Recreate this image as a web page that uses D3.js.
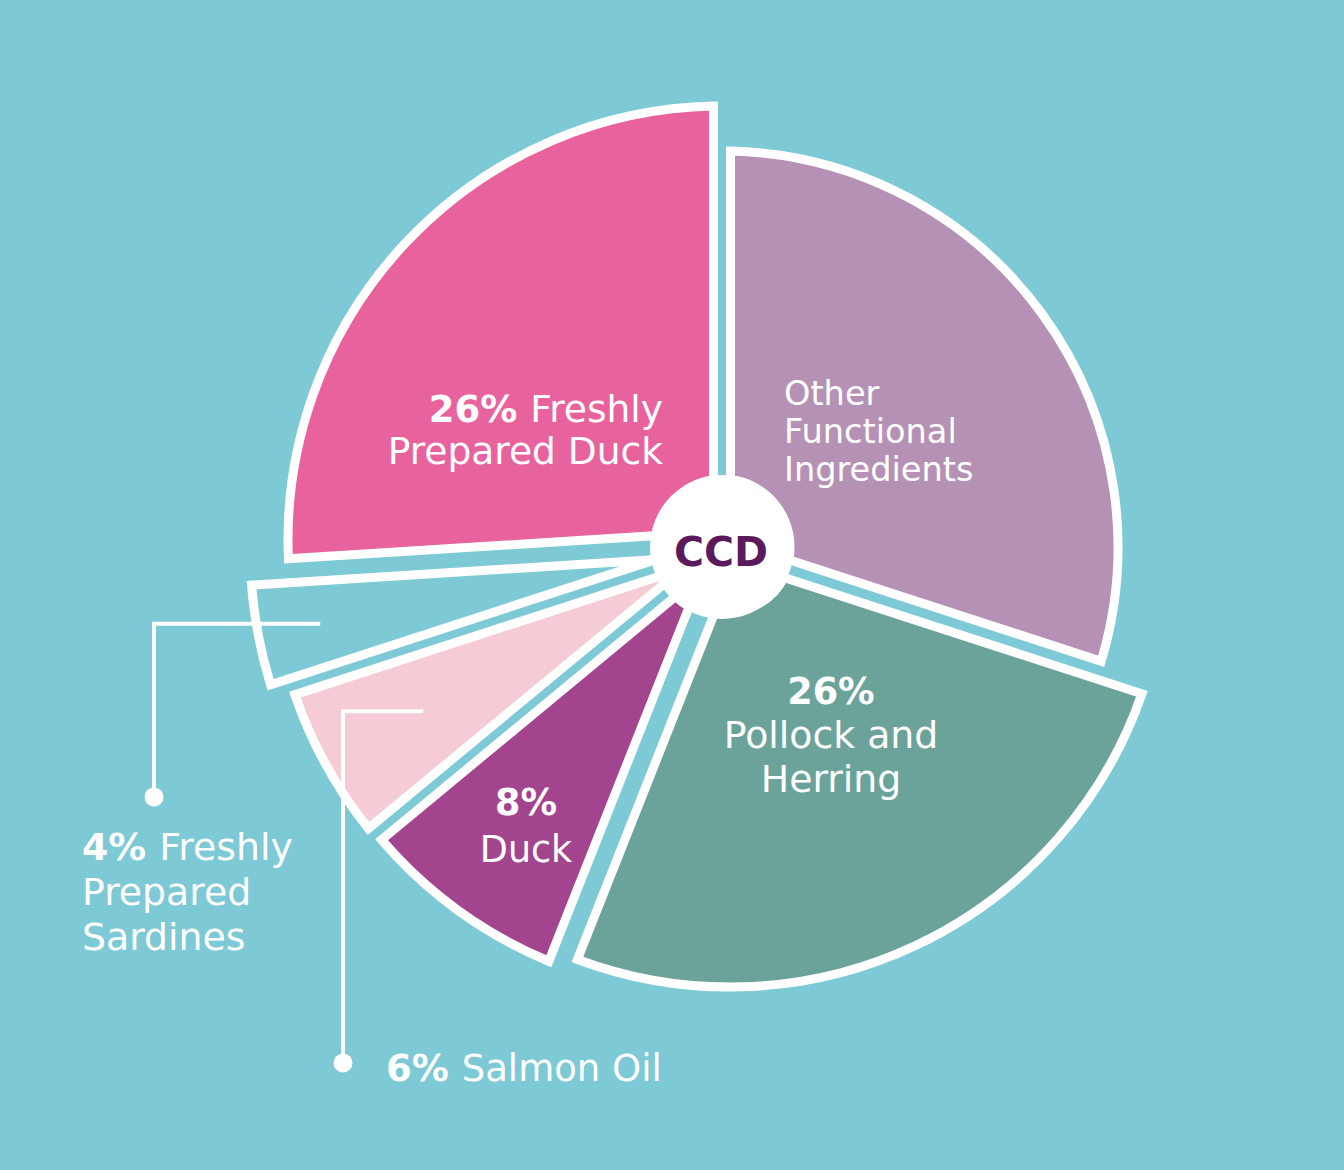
<!DOCTYPE html>
<html>
<head>
<meta charset="utf-8">
<script src="https://cdn.jsdelivr.net/npm/d3@7"></script>
<style>
  html, body { margin: 0; padding: 0; background: #7DC9D5; }
  svg { display: block; }
</style>
</head>
<body>
<svg id="chart" width="1344" height="1170"></svg>
<script>
// ---------- data ----------
const categories = ["Other Functional Ingredients", "Pollock and Herring", "Duck", "Salmon Oil", "Freshly Prepared Sardines", "Freshly Prepared Duck"];
const values = [30, 26, 8, 6, 4, 26];
const percentLabels = ["", "26%", "8%", "6%", "4%", "26%"];
const labelLines = [
  ["Other", "Functional", "Ingredients"],
  ["Pollock and", "Herring"],
  ["Duck"],
  ["Salmon Oil"],
  ["Freshly", "Prepared", "Sardines"],
  ["Freshly", "Prepared Duck"]
];
const centerLabel = "CCD";

// ---------- styles / layout ----------
const W = 1344, H = 1170;
const cx = 722, cy = 547;
const bg = "#7DC9D5";
const colors = ["#B592B5", "#6BA39A", "#A3448F", "#F5CCD5", "#7DC9D5", "#E8639E"];
const outerR = [396, 436, 449, 452, 472, 434];
const innerR = [68, 60, 68, 68, 70, 61];
const shifts = [[0, 0], [8, 4], [0, 0], [0, 0], [0, 0], [0, -7]];
const halfGap = 8.5, padR = 200;
const strokeW = 9;
const centerR = 72;
const fontFamily = "'DejaVu Sans', 'Noto Sans', sans-serif";

// label layout: relative to pie centre
const labelLayout = [
  { type: "inside", x: 62, y: -142, anchor: "start", size: 33.6, lh: 38, pctOwnLine: false, pctSize: 33.6 },
  { type: "inside", x: 109, y: 157, anchor: "middle", size: 37.8, lh: 44, pctOwnLine: true, pctSize: 36.5 },
  { type: "inside", x: -196, y: 268, anchor: "middle", size: 36.5, lh: 47, pctOwnLine: true, pctSize: 36.5 },
  { type: "callout", x: -336, y: 534, anchor: "start", size: 37, lh: 45, leaderR: 341, elbowX: -379, dotY: 516, pctSize: 37 },
  { type: "callout", x: -640, y: 313, anchor: "start", size: 37.8, lh: 45, leaderR: 409, elbowX: -568, dotY: 250, pctSize: 37.8 },
  { type: "inside", x: -59, y: -125, anchor: "end", size: 37.6, lh: 42, pctOwnLine: false, pctSize: 37 }
];

// ---------- drawing ----------
const svg = d3.select("#chart");
svg.append("rect").attr("width", W).attr("height", H).attr("fill", bg);

const root = svg.append("g").attr("transform", `translate(${cx},${cy})`);

const data = categories.map((c, i) => ({ category: c, value: values[i], i }));
const pie = d3.pie().sort(null).value(d => d.value).startAngle(0).endAngle(2 * Math.PI);
const arcs = pie(data);
const padAngle = 2 * Math.asin(halfGap / padR);

const sliceG = root.append("g");
arcs.forEach((a, i) => {
  const gen = d3.arc()
    .innerRadius(innerR[i])
    .outerRadius(outerR[i])
    .padAngle(padAngle)
    .padRadius(padR);
  sliceG.append("path")
    .attr("transform", `translate(${shifts[i][0]},${shifts[i][1]})`)
    .attr("d", gen(a))
    .attr("fill", colors[i])
    .attr("stroke", "#ffffff")
    .attr("stroke-width", strokeW)
    .attr("stroke-linejoin", "miter");
});

// centre circle
root.append("circle").attr("r", centerR).attr("fill", "#ffffff");
root.append("text")
  .attr("x", -1).attr("y", 19)
  .attr("text-anchor", "middle")
  .attr("font-family", fontFamily)
  .attr("font-weight", "bold")
  .attr("font-size", 41)
  .attr("fill", "#5B1A5C")
  .text(centerLabel);

// leaders
const leaderG = root.append("g");
arcs.forEach((a, i) => {
  const L = labelLayout[i];
  if (L.type !== "callout") return;
  const p = d3.arc().innerRadius(L.leaderR).outerRadius(L.leaderR).centroid(a);
  leaderG.append("path")
    .attr("d", d3.line()([[p[0], p[1]], [L.elbowX, p[1]], [L.elbowX, L.dotY]]))
    .attr("fill", "none")
    .attr("stroke", "#ffffff")
    .attr("stroke-width", 4);
  leaderG.append("circle")
    .attr("cx", L.elbowX).attr("cy", L.dotY).attr("r", 9.5)
    .attr("fill", "#ffffff");
});

// labels
const labelG = root.append("g")
  .attr("font-family", fontFamily)
  .attr("fill", "#ffffff");
arcs.forEach((a, i) => {
  const L = labelLayout[i];
  const pct = percentLabels[i];
  const lines = labelLines[i];
  let rows = [];
  if (pct && L.pctOwnLine) {
    rows.push({ bold: pct, text: "" });
    lines.forEach(t => rows.push({ bold: "", text: t }));
  } else {
    lines.forEach((t, k) => rows.push({ bold: (k === 0 ? pct : ""), text: t }));
  }
  rows.forEach((r, k) => {
    const t = labelG.append("text")
      .attr("x", L.x)
      .attr("y", L.y + k * L.lh)
      .attr("text-anchor", L.anchor)
      .attr("font-size", L.size);
    if (r.bold) t.append("tspan").attr("font-weight", "bold").attr("font-size", L.pctSize).text(r.bold + (r.text ? " " : ""));
    if (r.text) t.append("tspan").attr("font-weight", "normal").text(r.text);
  });
});
</script>
</body>
</html>
